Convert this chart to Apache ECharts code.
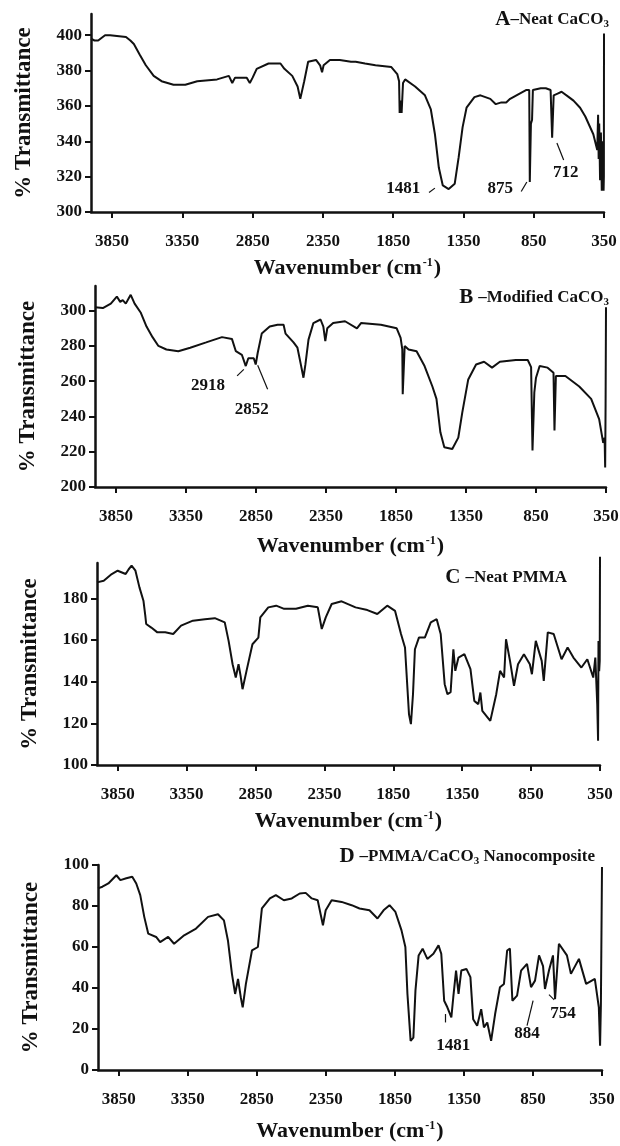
<!DOCTYPE html>
<html>
<head>
<meta charset="utf-8">
<script src="https://cdn.jsdelivr.net/npm/echarts@6.0.0/dist/echarts.min.js"></script>
<style>
  html, body { margin: 0; padding: 0; background: #fff; }
  #chart { width: 620px; height: 1146px; }
</style>
</head>
<body>
<div id="chart"></div>
<script>
// tick labels
var xTicks = [3850, 3350, 2850, 2350, 1850, 1350, 850, 350];
var yTicksA = [300, 320, 340, 360, 380, 400];
var yTicksB = [200, 220, 240, 260, 280, 300];
var yTicksC = [100, 120, 140, 160, 180];
var yTicksD = [0, 20, 40, 60, 80, 100];

// A - Neat CaCO3
var wnA = [4000,3975,3949,3900,3864,3751,3720,3695,3653,3610,3554,3498,3413,3329,3244,3103,3019,2995,2975,2892,2870,2850,2821,2737,2652,2624,2568,2530,2511,2497,2483,2455,2399,2370,2356,2345,2300,2230,2150,2117,2050,1976,1863,1821,1808,1804,1798,1790,1780,1765,1751,1694,1624,1582,1553,1525,1497,1455,1412,1384,1356,1328,1272,1229,1159,1120,1080,1046,1018,905,882,878,874,870,862,856,800,764,730,722,719,712,708,680,652,600,567,520,483,426,398,392,388,384,378,372,366,362,358,355,353,351,350];
var trA = [398,397,397,400,400,399,397,395,389,383,377,374,372,372,374,375,377,373,376,376,373,376,381,384,384,381,377,371,364,365,374,385,386,383,379,383,386,386,385,385,384,383,382,378,374,356,363,356,373,375,374,371,366,358,344,325,315,313,316,331,348,359,365,366,364,361,362,362,364,369,369,317,318,350,352,369,370,370,369,368,342,343,366,367,368,365,363,359,354,344,335,355,330,350,318,345,312,340,315,330,312,320,401];

// B - Modified CaCO3
var wnB = [4000,3944,3887,3844,3820,3802,3780,3759,3745,3717,3674,3632,3589,3547,3490,3405,3320,3206,3093,3022,2994,2951,2923,2905,2894,2866,2852,2838,2809,2752,2696,2653,2639,2582,2554,2531,2511,2497,2475,2440,2389,2369,2355,2341,2299,2214,2129,2100,1958,1845,1817,1805,1802,1798,1788,1760,1703,1646,1590,1561,1533,1505,1448,1405,1377,1334,1278,1221,1164,1108,994,909,885,875,868,862,850,824,767,725,718,713,708,640,541,456,399,370,360,356,353,350];
var trB = [302,301.5,304,308,305,306,304,307,309,304,299,291,285,280,278,277,279,282,285,284,277,275,268.6,273,272,273,269.5,276,287,291,292,292,287,282,279,270,262,269.5,283.6,293,295,291,282.7,290,293,294,290,293,292,290,284.6,278,252.6,253,280,278,277,268.6,257,250,231,222.6,221.6,228,242,261,269.5,271,267.7,271,272,272,268,220.7,221,253.6,262,268.6,267.7,264.8,232,232,263,263,257,250,238.5,225,228,211,246,302];

// C - Neat PMMA
var wnC = [4000,3951,3893,3850,3792,3770,3749,3721,3692,3663,3650,3643,3606,3562,3505,3447,3390,3304,3217,3145,3073,3045,3016,2993,2973,2958,2944,2915,2872,2829,2815,2757,2700,2642,2556,2470,2398,2369,2340,2297,2225,2124,2038,1966,1894,1837,1794,1765,1736,1722,1707,1693,1664,1621,1578,1535,1506,1477,1457,1434,1414,1400,1377,1334,1290,1262,1233,1218,1204,1146,1103,1075,1046,1032,1003,974,945,902,859,844,816,773,758,729,686,629,585,543,485,442,399,384,370,364,361,356,352,350];
var trC = [187.7,188.5,191.7,193.3,191.7,194,195.7,193.3,185.3,178.9,172,167.7,166,163.7,163.7,162.9,166.9,169.3,170,170.5,168.5,159.6,148.4,142,148.4,142.8,136.4,145.2,158,161.2,170.9,175.7,176.5,175,175,176.5,175.7,165.3,170.9,177.3,178.6,175.7,174.4,172.5,176.5,174,162.9,156.4,124.4,119.6,134,155.6,161.2,161.2,168.5,170,162.9,138.8,134,135,155.6,145.2,151.6,153.2,146,130.8,129.2,134.8,126,121.2,134,145.2,142,160.4,150,138,148.4,153.2,148.4,143.6,159.6,150,140.4,163.7,162.9,150.8,156.4,151.6,146.8,150.8,142,151.6,129.2,111.6,159.6,145,150,200];

// D - PMMA/CaCO3 nanocomposite
var wnD = [4000,3968,3925,3867,3838,3795,3752,3723,3694,3665,3636,3579,3550,3492,3449,3376,3290,3203,3131,3088,3059,3030,3007,2986,2966,2952,2929,2885,2842,2813,2755,2712,2654,2597,2539,2496,2452,2409,2371,2351,2308,2236,2163,2106,2034,1976,1932,1889,1846,1802,1774,1759,1736,1716,1701,1678,1649,1615,1571,1534,1514,1493,1470,1441,1427,1407,1389,1369,1332,1303,1283,1254,1225,1205,1181,1153,1124,1089,1060,1037,1017,999,965,936,893,864,835,806,777,763,734,705,690,662,604,575,517,465,402,373,364,358,350];
var trD = [88.6,89.4,91,95,92.6,93.5,94.3,91,85.3,74.7,66.5,64.9,62.4,64.9,61.6,65.7,69,74.7,76,73,63.2,46.9,37.1,44.4,35.5,30.6,42,58.3,60,78.8,83.7,85.3,82.8,83.7,86.1,86.4,83.7,82.8,70.6,77.9,82.8,82,80.4,78.8,77.9,73.9,77.9,80.4,77.1,68.1,60,37.1,14.2,15.8,38.7,55.9,59.2,54.2,56.7,60.8,56.7,33.8,30.6,25.7,35.5,48.5,37.1,48.5,49.3,45.3,24.8,21.6,29.7,20.8,23.2,14.2,27.3,40.4,42,58.3,59.2,33.8,36.3,48.5,51.8,40.4,43.6,55.9,50.7,39.5,48.5,55.9,34.6,61.6,55.9,46.9,54.2,42,44.4,30.6,11.8,32,99];

var chart = echarts.init(document.getElementById('chart'));
var serif = 'Liberation Serif';
var ink = '#111';

function pairs(wn, tr) {
  return wn.map(function (w, i) { return [w, tr[i]]; });
}
function plain(v) { return String(v); }

// plot areas (px)
var grids = [
  { left: 91, top: 14, width: 513, height: 198 },
  { left: 95, top: 286, width: 511, height: 201 },
  { left: 97, top: 563, width: 503, height: 202 },
  { left: 98, top: 865, width: 504, height: 205 }
];
var yRanges = [[300, 412, yTicksA], [200, 314, yTicksB], [100, 197, yTicksC], [0, 100, yTicksD]];
var xNameGaps = [45, 48, 45, 50];

var xAxes = grids.map(function (g, i) {
  return {
    type: 'value', gridIndex: i, min: 350, max: 4000, inverse: true,
    name: 'Wavenumber (cm{sup|-1})', nameLocation: 'middle', nameGap: xNameGaps[i],
    nameTextStyle: {
      fontFamily: serif, fontWeight: 'bold', fontSize: 22, color: ink,
      rich: { sup: { fontFamily: serif, fontWeight: 'bold', fontSize: 12, color: ink, verticalAlign: 'top', padding: [0, 1, 8, 1] } }
    },
    axisLine: { onZero: false, lineStyle: { color: ink, width: 2.5 } },
    axisTick: { customValues: xTicks, length: 6, lineStyle: { color: ink, width: 2 } },
    axisLabel: { customValues: xTicks, formatter: plain, margin: 21, fontFamily: serif, fontWeight: 'bold', fontSize: 17, color: ink },
    splitLine: { show: false }
  };
});

var yAxes = grids.map(function (g, i) {
  var r = yRanges[i];
  return {
    type: 'value', gridIndex: i, min: r[0], max: r[1],
    name: '% Transmittance', nameLocation: 'middle', nameGap: 55, nameRotate: 90,
    nameTextStyle: { fontFamily: serif, fontWeight: 'bold', fontSize: 23, color: ink },
    axisLine: { show: true, onZero: false, lineStyle: { color: ink, width: 2.5 } },
    axisTick: { show: true, customValues: r[2], length: 6, lineStyle: { color: ink, width: 2 } },
    axisLabel: { customValues: r[2], formatter: plain, margin: 9, fontFamily: serif, fontWeight: 'bold', fontSize: 17, color: ink },
    splitLine: { show: false }
  };
});

var noteLabel = { show: true, position: 'inside', formatter: '{b}', fontFamily: serif, fontWeight: 'bold', fontSize: 17, color: ink };
function notes(points) {
  return { symbol: 'circle', symbolSize: 0, silent: true, label: noteLabel,
    data: points.map(function (p) { return { name: p[0], coord: [p[1], p[2]] }; }) };
}
function leaders(segs) {
  return { symbol: ['none', 'none'], silent: true, label: { show: false },
    lineStyle: { color: ink, width: 1.2, type: 'solid' },
    data: segs.map(function (s) { return [{ coord: [s[0], s[1]] }, { coord: [s[2], s[3]] }]; }) };
}

var series = [
  { data: pairs(wnA, trA),
    markPoint: notes([['1481', 1779, 313.5], ['875', 1088, 313.5], ['712', 623, 322]]),
    markLine: leaders([[1595, 311, 1553, 313.5], [939, 311.6, 899, 317], [685, 339, 637, 329.4]]) },
  { data: pairs(wnB, trB),
    markPoint: notes([['2918', 3192, 257.7], ['2852', 2880, 244]]),
    markLine: leaders([[2985, 263, 2937, 266.7], [2838, 269, 2767, 255.5]]) },
  { data: pairs(wnC, trC), clip: false },
  { data: pairs(wnD, trD),
    markPoint: notes([['1481', 1427, 11.8], ['884', 893, 17.8], ['754', 633, 27.3]]),
    markLine: leaders([[1485, 27.3, 1482, 23.2], [893, 21.6, 849, 33.8], [734, 36.8, 696, 34.2]]) }
].map(function (s, i) {
  s.type = 'line';
  s.xAxisIndex = i;
  s.yAxisIndex = i;
  s.symbol = 'none';
  s.lineStyle = { color: ink, width: 2 };
  return s;
});

var richTitle = function (size) {
  return {
    big: { fontFamily: serif, fontWeight: 'bold', fontSize: 21, color: ink },
    t: { fontFamily: serif, fontWeight: 'bold', fontSize: size, color: ink },
    sub: { fontFamily: serif, fontWeight: 'bold', fontSize: 11, color: ink, verticalAlign: 'bottom', padding: [8, 0, 0, 0] }
  };
};

var option = {
  animation: false,
  backgroundColor: '#fff',
  title: [
    { text: '{big|A}{t|–Neat CaCO}{sub|3}', right: 6, top: 4, textStyle: { rich: richTitle(17) } },
    { text: '{big|B} {t|–Modified CaCO}{sub|3}', right: 6, top: 282, textStyle: { rich: richTitle(17) } },
    { text: '{big|C} {t|–Neat PMMA}', right: 48, top: 562, textStyle: { rich: richTitle(17) } },
    { text: '{big|D} {t|–PMMA/CaCO}{sub|3}{t| Nanocomposite}', right: 20, top: 841, textStyle: { rich: richTitle(17) } }
  ],
  grid: grids.map(function (g) {
    return { left: g.left, top: g.top, width: g.width, height: g.height, containLabel: false, outerBoundsMode: 'none' };
  }),
  xAxis: xAxes,
  yAxis: yAxes,
  series: series
};
chart.setOption(option);
</script>
</body>
</html>
